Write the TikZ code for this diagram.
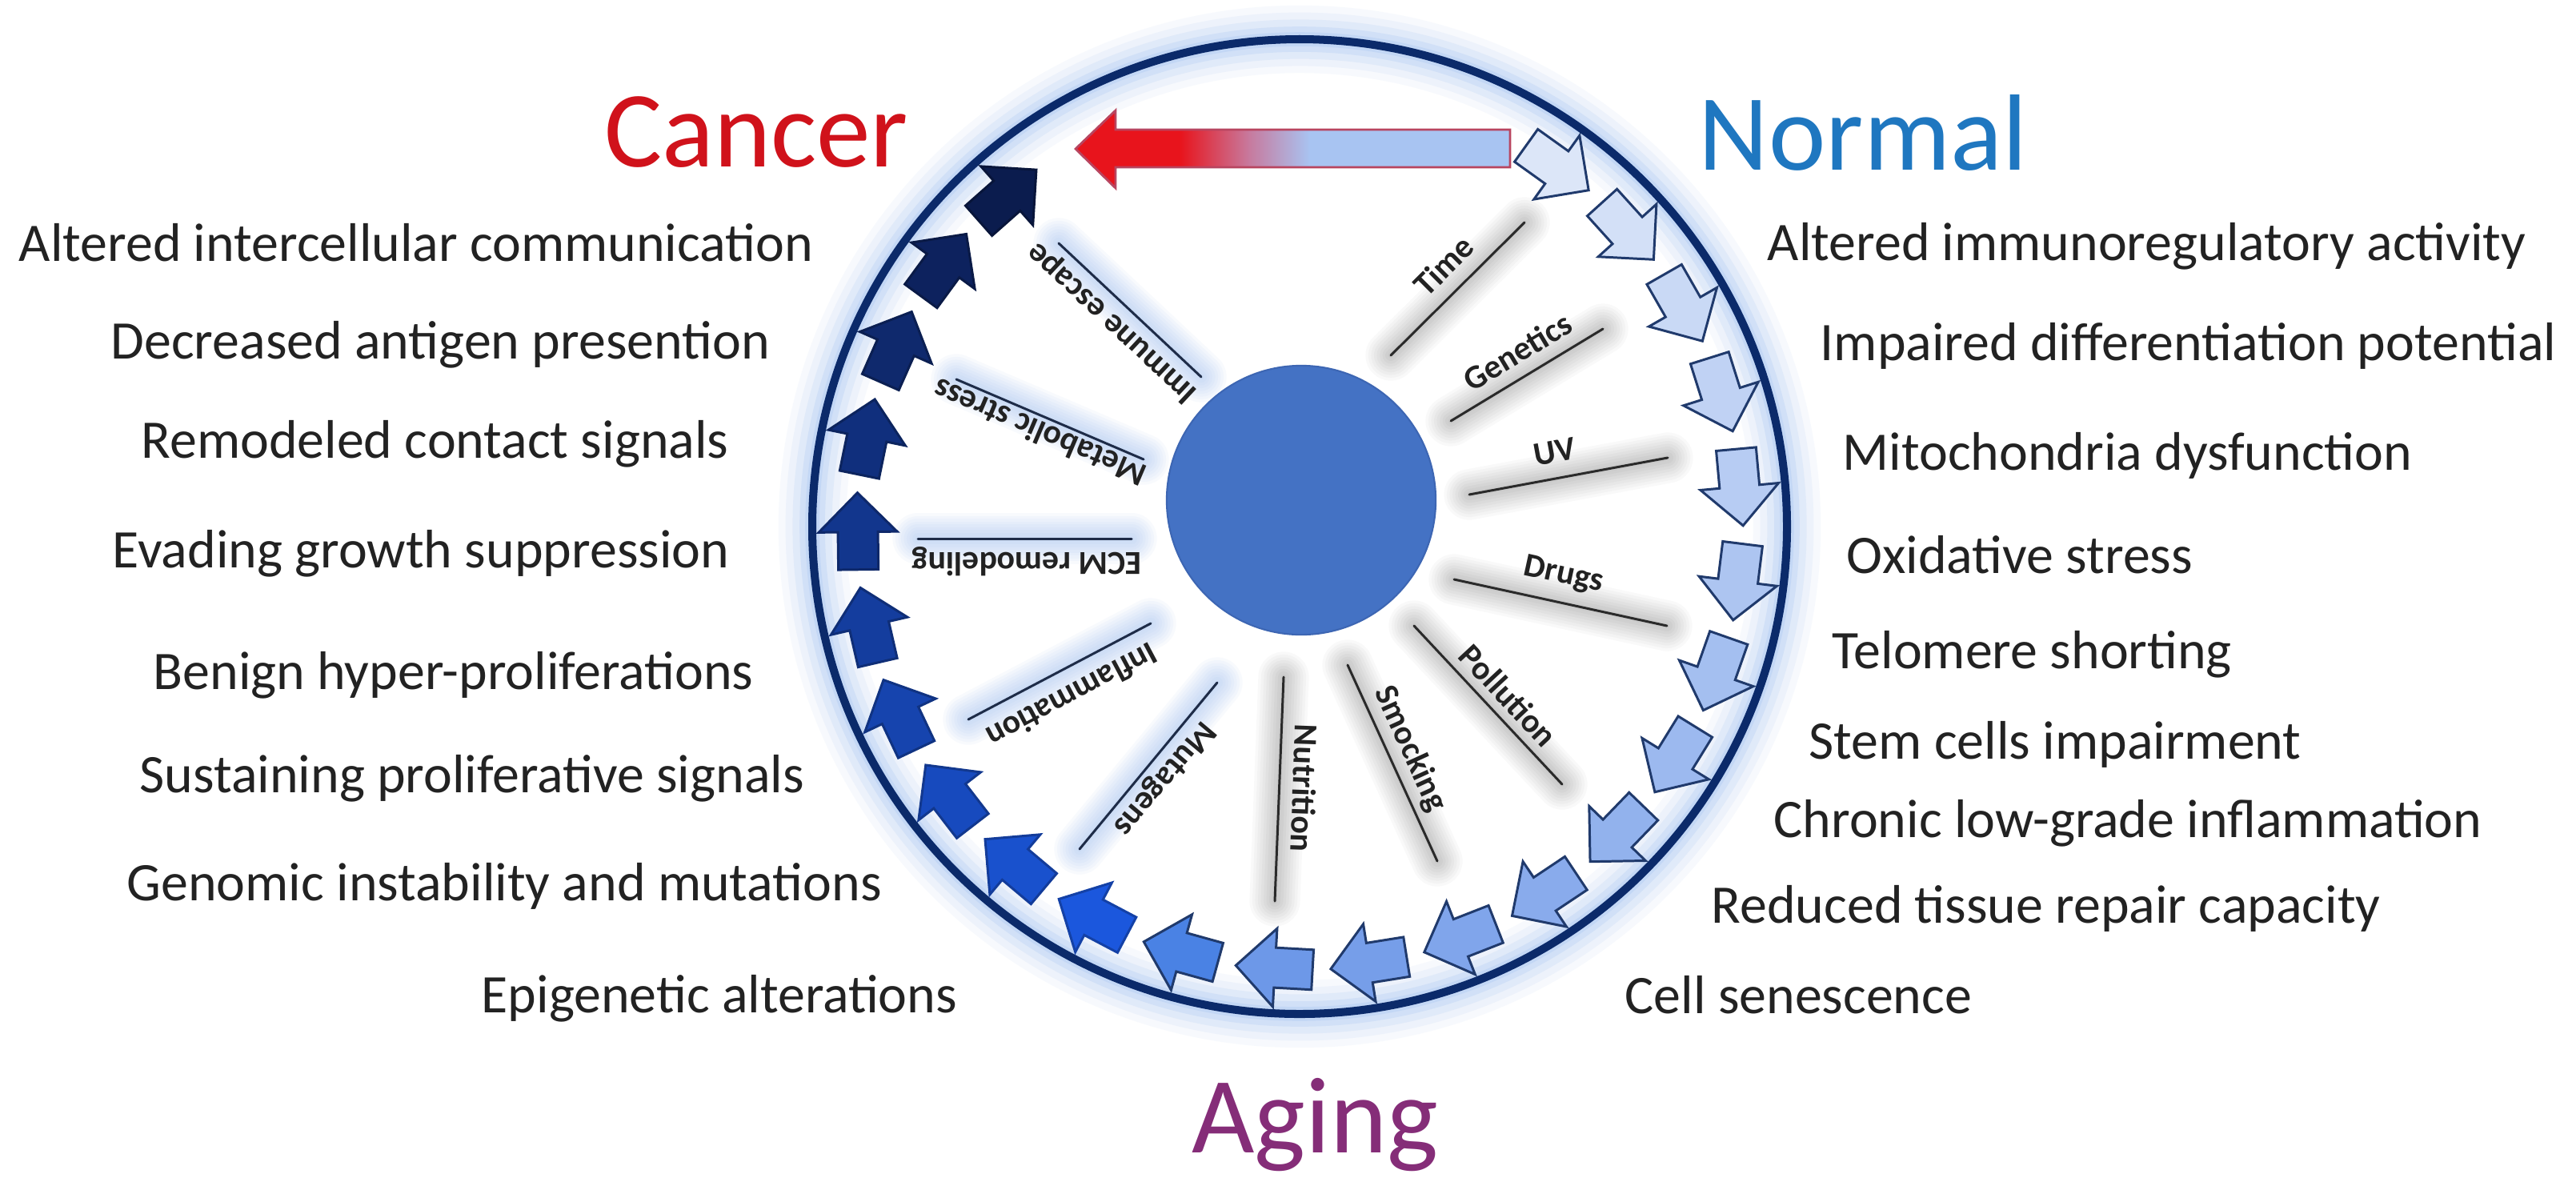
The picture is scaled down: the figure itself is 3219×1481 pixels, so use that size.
\documentclass[tikz,border=0pt]{standalone}
\usepackage{fontspec}
\setmainfont{Carlito}
\usetikzlibrary{calc}
\definecolor{ringc}{HTML}{0B2A6A}
\definecolor{glowc}{HTML}{9CBDF0}
\definecolor{corec}{HTML}{4472C4}
\definecolor{coreline}{HTML}{3D66B3}
\definecolor{alight}{HTML}{DCE6F8}
\definecolor{amid}{HTML}{6D98E8}
\definecolor{aline}{HTML}{203A6C}
\definecolor{afourteen}{HTML}{4A82E4}
\definecolor{adkone}{HTML}{1B57DD}
\definecolor{adktwo}{HTML}{0B1C4E}
\definecolor{cred}{HTML}{E8141C}
\definecolor{cmauve}{HTML}{C77A9E}
\definecolor{cblue}{HTML}{A8C4F2}
\definecolor{cborder}{HTML}{B84560}
\definecolor{cancerc}{HTML}{D0121B}
\definecolor{normalc}{HTML}{1F77C0}
\definecolor{agingc}{HTML}{852D78}
\definecolor{txtc}{HTML}{222222}
\definecolor{spkdark}{HTML}{1E2C48}
\definecolor{spkgrey}{HTML}{2A2A2A}
\pgfdeclarehorizontalshading{cshade}{100bp}{color(0bp)=(cred); color(37bp)=(cred); color(45bp)=(cmauve); color(52bp)=(cblue); color(100bp)=(cblue)}
\newcommand\softline[4]{%
  \begin{scope}[shift={#2}]
    \foreach \w in {18,16,...,2}{\draw[#1, line width=\w pt, line cap=round] (#3) -- (#4);}
  \end{scope}}
\begin{document}
\begin{tikzpicture}[x=0.01cm, y=-0.01cm,
  itemlbl/.style={font=\fontsize{19.3pt}{23pt}\selectfont, text=txtc, inner sep=0pt, anchor=base west},
  ttl/.style={font=\fontsize{38.5pt}{46pt}\selectfont, inner sep=0pt, anchor=base},
  spk/.style={font=\bfseries\fontsize{11.9pt}{14pt}\selectfont, text=txtc, inner sep=0pt},
  spkline/.style={line width=0.85pt, line cap=round},
  greyshadow/.style={black, opacity=0.022},
  blueglow/.style={glowc, opacity=0.07}
]
\useasboundingbox (0,0) rectangle (3219,1481);
\fill[white] (0,0) rectangle (3219,1481);

% ring glow
\coordinate (C) at (1624,658);
\foreach \w/\o in {24/0.08, 19/0.11, 14/0.15, 9/0.22, 5/0.25}{
  \draw[glowc, opacity=\o, line width=\w pt] (C) circle[radius=609];
}

% spoke coordinates
\coordinate (tA) at (1738,444); \coordinate (tB) at (1905,278);
\coordinate (gA) at (1813,526); \coordinate (gB) at (2003,411);
\coordinate (uA) at (1836,618); \coordinate (uB) at (2084,572);
\coordinate (dA) at (1817,724); \coordinate (dB) at (2083,782);
\coordinate (pA) at (1767,782); \coordinate (pB) at (1952,980);
\coordinate (sA) at (1684,831); \coordinate (sB) at (1796,1076);
\coordinate (nA) at (1604,846); \coordinate (nB) at (1593,1126);
\coordinate (mA) at (1521,853); \coordinate (mB) at (1349,1061);
\coordinate (iA) at (1438,779); \coordinate (iB) at (1210,899);
\coordinate (eA) at (1414,673); \coordinate (eB) at (1147,673);
\coordinate (bA) at (1429,574); \coordinate (bB) at (1195,474);
\coordinate (xA) at (1501,471); \coordinate (xB) at (1323,304);

% shadows and glows of spokes
\softline{greyshadow}{(10,10)}{tA}{tB}
\softline{greyshadow}{(7,12)}{gA}{gB}
\softline{greyshadow}{(3,14)}{uA}{uB}
\softline{greyshadow}{(-3,14)}{dA}{dB}
\softline{greyshadow}{(-10,10)}{pA}{pB}
\softline{greyshadow}{(-13,6)}{sA}{sB}
\softline{greyshadow}{(-14,0)}{nA}{nB}
\softline{blueglow}{(-11,-9)}{mA}{mB}
\softline{blueglow}{(-7,-12)}{iA}{iB}
\softline{blueglow}{(0,-14)}{eA}{eB}
\softline{blueglow}{(5,-13)}{bA}{bB}
\softline{blueglow}{(9,-10)}{xA}{xB}

% spoke lines
\draw[spkline, spkgrey] (tA) -- (tB);
\draw[spkline, spkgrey] (gA) -- (gB);
\draw[spkline, spkgrey] (uA) -- (uB);
\draw[spkline, spkgrey] (dA) -- (dB);
\draw[spkline, spkgrey] (pA) -- (pB);
\draw[spkline, spkgrey] (sA) -- (sB);
\draw[spkline, spkgrey] (nA) -- (nB);
\draw[spkline, spkdark] (mA) -- (mB);
\draw[spkline, spkdark] (iA) -- (iB);
\draw[spkline, spkdark] (eA) -- (eB);
\draw[spkline, spkdark] (bA) -- (bB);
\draw[spkline, spkdark] (xA) -- (xB);

% spoke labels
\node[spk, rotate=45] (lTime) at (1804,332) {Time};
\node[spk, rotate=31] (lGen) at (1896,439) {Genetics};
\node[spk, rotate=10.5] (lUV) at (1943,565) {UV};
\node[spk, rotate=-12.3] (lDrugs) at (1954,719) {Drugs};
\node[spk, rotate=-47] (lPoll) at (1885,869) {Pollution};
\node[spk, rotate=-65.4] (lSmo) at (1762,936) {Smocking};
\node[spk, rotate=-92] (lNut) at (1630,985) {Nutrition};
\node[spk, rotate=230] (lMut) at (1454,972) {Mutagens};
\node[spk, rotate=208] (lInf) at (1340,870) {Inflammation};
\node[spk, rotate=180] (lECM) at (1283,702) {ECM remodeling};
\node[spk, rotate=157] (lMet) at (1299,541) {Metabolic stress};
\node[spk, rotate=137] (lImm) at (1390,403) {Immune escape};

% core disk
\node[circle, fill=corec, draw=coreline, line width=0.6pt, minimum size=3.36cm, inner sep=0pt] (core) at (1626,625) {};

% ring
\draw[ringc, line width=2.85pt] (C) circle[radius=609];

% arrows around the ring
\foreach \k in {1,...,24}{
  \pgfmathsetmacro{\ang}{54.4-12.3*(\k-1)}
  \ifnum\k<14
    \pgfmathtruncatemacro{\pc}{round(100*(13-\k)/12)}
    \colorlet{afill}{alight!\pc!amid}\colorlet{adraw}{aline}
  \else\ifnum\k=14
    \colorlet{afill}{afourteen}\colorlet{adraw}{aline}
  \else
    \pgfmathtruncatemacro{\pc}{round(100*(24-\k)/9)}
    \colorlet{afill}{adkone!\pc!adktwo}\colorlet{adraw}{afill!75!black}
  \fi\fi
  \begin{scope}[shift={(C)}, rotate=\ang]
    \filldraw[fill=afill, draw=adraw, line width=0.85pt, line join=miter]
      (527,-47) -- (577,-47) -- (577,0) -- (601,0) -- (552,49) -- (503,0) -- (527,0) -- cycle;
  \end{scope}
}

% big gradient arrow
\shadedraw[shading=cshade, draw=cborder, line width=0.8pt, line join=miter]
  (1887,162) -- (1394,162) -- (1394,138) -- (1344,186) -- (1394,235) -- (1394,209) -- (1887,209) -- cycle;

% titles
\node[ttl, text=cancerc] (cancer) at (945,208) {Cancer};
\node[ttl, text=normalc] (normal) at (2328,212) {Normal};
\node[ttl, text=agingc] (aging) at (1643,1440) {Aging};

% left labels
\node[itemlbl] (L1) at (23,326) {Altered intercellular communication};
\node[itemlbl] (L2) at (138,448) {Decreased antigen presention};
\node[itemlbl] (L3) at (176,572) {Remodeled contact signals};
\node[itemlbl] (L4) at (140,709) {Evading growth suppression};
\node[itemlbl] (L5) at (191,861) {Benign hyper-proliferations};
\node[itemlbl] (L6) at (174,990) {Sustaining proliferative signals};
\node[itemlbl] (L7) at (158,1125) {Genomic instability and mutations};
\node[itemlbl] (L8) at (601,1265) {Epigenetic alterations};

% right labels
\node[itemlbl] (R1) at (2208,325) {Altered immunoregulatory activity};
\node[itemlbl] (R2) at (2274,450) {Impaired differentiation potential};
\node[itemlbl] (R3) at (2302,587) {Mitochondria dysfunction};
\node[itemlbl] (R4) at (2307,716) {Oxidative stress};
\node[itemlbl] (R5) at (2289,835) {Telomere shorting};
\node[itemlbl] (R6) at (2260,948) {Stem cells impairment};
\node[itemlbl] (R7) at (2216,1046) {Chronic low-grade inflammation};
\node[itemlbl] (R8) at (2138,1153) {Reduced tissue repair capacity};
\node[itemlbl] (R9) at (2030,1266) {Cell senescence};
\end{tikzpicture}
\end{document}
